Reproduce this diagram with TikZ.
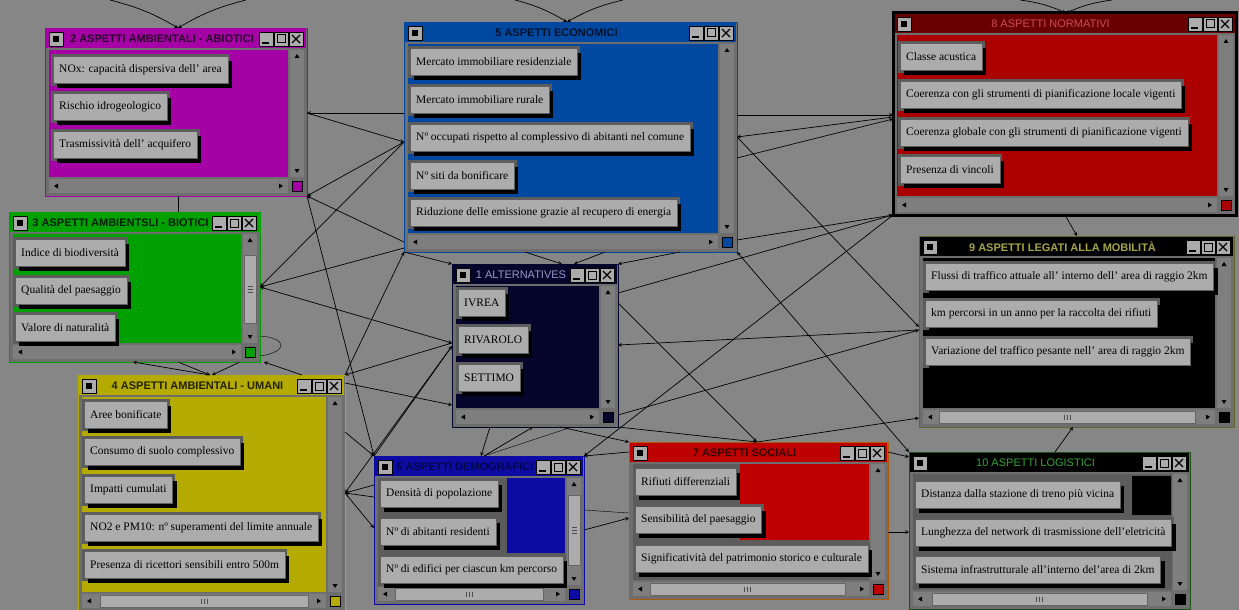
\documentclass[tikz,border=0pt]{standalone}
\usepackage{fontspec}
\setmainfont{Liberation Serif}
\newfontfamily\winfont{Liberation Sans}
\usetikzlibrary{shadows}

\definecolor{desk}{RGB}{134,134,134}
\definecolor{frame}{RGB}{110,110,110}
\definecolor{track}{RGB}{126,126,126}
\definecolor{face}{RGB}{172,172,172}
\definecolor{band}{RGB}{92,92,92}
\definecolor{magwin}{RGB}{165,0,165}
\definecolor{ecowin}{RGB}{0,72,160}
\definecolor{normbar}{RGB}{105,0,0}
\definecolor{normwin}{RGB}{170,0,0}
\definecolor{normtxt}{RGB}{205,75,95}
\definecolor{biowin}{RGB}{0,160,0}
\definecolor{umawin}{RGB}{180,170,0}
\definecolor{altwin}{RGB}{6,6,45}
\definecolor{alttxt}{RGB}{150,150,200}
\definecolor{demwin}{RGB}{12,12,165}
\definecolor{socwin}{RGB}{190,0,0}
\definecolor{socline}{RGB}{175,90,10}
\definecolor{mobtxt}{RGB}{165,165,70}
\definecolor{logtxt}{RGB}{50,165,50}

\tikzset{
  winbox/.style={inner sep=0pt, outer sep=0pt},
  wintitle/.style={font=\winfont\fontsize{11}{13}\selectfont\bfseries, inner sep=0pt},
  lighttitle/.style={font=\winfont\fontsize{11}{13}\selectfont},
  btn/.style={preaction={draw=band, line width=5pt},
    general shadow={fill=black, shadow xshift=4pt, shadow yshift=-5pt},
    fill=face, draw=face!55!black, font=\fontsize{11.5}{13}\selectfont,
    minimum height=27pt, inner xsep=6pt, inner ysep=0pt, anchor=north west},
  thumb/.style={fill=face, draw=black!60},
  link/.style={->, line width=.7pt},
}

% window: name, x, y, width, height, bar colour, title style, title, body colour
\newcommand{\appwin}[9]{%
  \filldraw[fill=frame, draw=#6, line width=.8pt] (#2,#3) rectangle ++(#4,#5);
  \fill[#6] (#2+1,#3+1) rectangle (#2+#4-1,#3+20);
  \fill[#9] (#2+4,#3+22) rectangle (#2+#4-19,#3+#5-19);
  \fill[track] (#2+#4-17,#3+22) rectangle (#2+#4-3,#3+#5-19);
  \fill[track] (#2+4,#3+#5-17) rectangle (#2+#4-19,#3+#5-3);
  \fill[black] (#2+#4-10,#3+26) -- ++(-2.5,4) -- ++(5,0) -- cycle;
  \fill[black] (#2+#4-10,#3+#5-23) -- ++(-2.5,-4) -- ++(5,0) -- cycle;
  \fill[black] (#2+9,#3+#5-10) -- ++(4,-2.5) -- ++(0,5) -- cycle;
  \fill[black] (#2+#4-24,#3+#5-10) -- ++(-4,-2.5) -- ++(0,5) -- cycle;
  \filldraw[fill=#9, draw=black] (#2+#4-15,#3+#5-15) rectangle ++(10,10);
  \filldraw[fill=face, draw=black] (#2+4,#3+4) rectangle ++(14,14);
  \fill[black] (#2+8,#3+8) rectangle ++(6,6);
  \foreach \k in {1,2,3} {\filldraw[fill=face, draw=black] (#2+#4-3-15*\k,#3+4) rectangle ++(14,14);}
  \draw[line width=2pt] (#2+#4-45,#3+15) -- ++(7,0);
  \draw[line width=1pt] (#2+#4-30,#3+7) rectangle ++(8,8);
  \draw[line width=1.2pt] (#2+#4-15,#3+7) -- ++(8,8) (#2+#4-15,#3+15) -- ++(8,-8);
  \node[winbox, minimum width=#4pt, minimum height=#5pt, anchor=north west] (#1) at (#2,#3) {};
  \node[wintitle, #7] (#1-t) at (#2+#4/2-14,#3+11) {#8};
}
\newcommand{\hgrip}[3]{%
  \filldraw[thumb] (#1,#3) rectangle (#2,#3+12);
  \foreach \d in {-3,0,3} {\draw[black!70] ({(#1+#2)/2+\d},#3+3.5) -- ++(0,5);}
}
\newcommand{\vgrip}[3]{%
  \filldraw[thumb] (#1,#2) rectangle (#1+12,#3);
  \foreach \d in {-3,0,3} {\draw[black!70] (#1+3.5,{(#2+#3)/2+\d}) -- ++(5,0);}
}

\begin{document}
\begin{tikzpicture}[x=1pt, y=-1pt, >=stealth]
  \fill[desk] (0,0) rectangle (1239,610);
  \useasboundingbox (0,0) rectangle (1239,610);

  % 2 abiotici
  \appwin{w2}{45}{28}{262}{168}{magwin}{text=magwin!25!black}{2 ASPETTI AMBIENTALI - ABIOTICI}{magwin}
  \node[btn] (b2a) at (53,56) {NOx: capacità dispersiva dell' area};
  \node[btn] (b2b) at (53,93) {Rischio idrogeologico};
  \node[btn] (b2c) at (53,131) {Trasmissività dell' acquifero};

  % 5 economici
  \appwin{w5}{404}{22}{333}{230}{ecowin}{text=ecowin!25!black}{5 ASPETTI ECONOMICI}{ecowin}
  \node[btn] (b5a) at (410,48) {Mercato immobiliare residenziale};
  \node[btn] (b5b) at (410,86) {Mercato immobiliare rurale};
  \node[btn] (b5c) at (410,124) {Nº occupati rispetto al complessivo di abitanti nel comune};
  \node[btn] (b5d) at (410,162) {Nº siti da bonificare};
  \node[btn] (b5e) at (410,199) {Riduzione delle emissione grazie al recupero di energia};

  % 8 normativi
  \appwin{w8}{893}{13}{343}{202}{normbar}{lighttitle, text=normtxt}{8 ASPETTI NORMATIVI}{normwin}
  \draw[line width=3pt] (w8.north west) rectangle (w8.south east);
  \node[btn] (b8a) at (900,43) {Classe acustica};
  \node[btn] (b8b) at (900,81) {Coerenza con gli strumenti di pianificazione locale vigenti};
  \node[btn] (b8c) at (900,119) {Coerenza globale con gli strumenti di pianificazione vigenti};
  \node[btn] (b8d) at (900,156) {Presenza di vincoli};

  % 3 biotici
  \appwin{w3}{9}{212}{251}{150}{biowin}{text=biowin!20!black}{3 ASPETTI AMBIENTSLI - BIOTICI}{biowin}
  \vgrip{244}{255}{323}
  \node[btn] (b3a) at (15,239) {Indice di biodiversità};
  \node[btn] (b3b) at (15,277) {Qualità del paesaggio};
  \node[btn] (b3c) at (15,314) {Valore di naturalità};

  % 4 umani
  \appwin{w4}{78}{375}{267}{236}{umawin}{text=umawin!20!black}{4 ASPETTI AMBIENTALI - UMANI}{umawin}
  \hgrip{100}{308}{595}
  \node[btn] (b4a) at (84,401) {Aree bonificate};
  \node[btn] (b4b) at (84,438) {Consumo di suolo complessivo};
  \node[btn] (b4c) at (84,476) {Impatti cumulati};
  \node[btn] (b4d) at (84,514) {NO2 e PM10: nº superamenti del limite annuale};
  \node[btn] (b4e) at (84,551) {Presenza di ricettori sensibili entro 500m};

  % 1 alternatives
  \appwin{w1}{452}{264}{166}{163}{altwin}{lighttitle, text=alttxt}{1 ALTERNATIVES}{altwin}
  \node[btn] (b1a) at (458,289) {IVREA};
  \node[btn] (b1b) at (458,326) {RIVAROLO};
  \node[btn] (b1c) at (458,364) {SETTIMO};

  % 6 demografici
  \appwin{w6}{374}{456}{210}{148}{demwin}{text=demwin!45!black}{6 ASPETTI DEMOGRAFICI}{demwin}
  \fill[band] (378,478) rectangle (565,585);
  \fill[demwin] (507,478) rectangle (565,553);
  \vgrip{568}{495}{565}
  \hgrip{395}{543}{588}
  \node[btn] (b6a) at (380,480) {Densità di popolazione};
  \node[btn] (b6b) at (380,518) {Nº di abitanti residenti};
  \node[btn] (b6c) at (380,556) {Nº di edifici per ciascun km percorso};

  % 7 sociali
  \appwin{w7}{629}{442}{259}{157}{socwin}{text=socwin!30!black}{7 ASPETTI SOCIALI}{socwin}
  \draw[socline, line width=.8pt] (w7.north west) rectangle (w7.south east);
  \fill[band] (633,464) rectangle (869,580);
  \fill[socwin] (740,464) rectangle (869,540);
  \hgrip{650}{845}{583}
  \node[btn] (b7a) at (635,468) {Rifiuti differenziali};
  \node[btn] (b7b) at (635,506) {Sensibilità del paesaggio};
  \node[btn] (b7c) at (635,545) {Significatività del patrimonio storico e culturale};

  % 9 mobilita
  \appwin{w9}{919}{236}{315}{191}{black}{text=mobtxt}{9 ASPETTI LEGATI ALLA MOBILITÀ}{black}
  \draw[mobtxt!60!black, line width=.8pt] (w9.north west) rectangle (w9.south east);
  \hgrip{939}{1195}{411}
  \node[btn] (b9a) at (925,263) {Flussi di traffico attuale all' interno dell' area di raggio 2km};
  \node[btn] (b9b) at (925,300) {km percorsi in un anno per la raccolta dei rifiuti};
  \node[btn] (b9c) at (925,338) {Variazione del traffico pesante nell' area di raggio 2km};

  % 10 logistici
  \appwin{w10}{909}{452}{281}{157}{black}{lighttitle, text=logtxt}{10 ASPETTI LOGISTICI}{black}
  \draw[logtxt!50!black, line width=.8pt] (w10.north west) rectangle (w10.south east);
  \fill[band] (913,474) rectangle (1172,590);
  \fill[black] (1132,476) rectangle (1171,515);
  \hgrip{932}{1147}{593}
  \node[btn] (b10a) at (915,481) {Distanza dalla stazione di treno più vicina};
  \node[btn] (b10b) at (915,519) {Lunghezza del network di trasmissione dell'eletricità};
  \node[btn] (b10c) at (915,556) {Sistema infrastrutturale all'interno del'area di 2km};

  % links coming from above
  \coordinate (in2a) at (110,0);
  \coordinate (in2b) at (246,0);
  \coordinate (in5a) at (515,0);
  \coordinate (in5b) at (623,0);
  \coordinate (in8a) at (1020,0);
  \coordinate (in8b) at (1112,0);
  \draw[link] (in2a) to[bend left=8] (w2.north -| 178,0);
  \draw[link] (in2b) to[bend right=8] (w2.north -| 178,0);
  \draw[link] (in5a) to[bend left=8] (w5.north -| 567,0);
  \draw[link] (in5b) to[bend right=8] (w5.north -| 567,0);
  \draw[link] (in8a) to[bend left=8] (w8.north -| 1066,0);
  \draw[link] (in8b) to[bend right=8] (w8.north -| 1066,0);

  % links between windows
  \draw (w2.south -| 178,0) -- (w3.north -| 178,0);
  \draw[link] (w5.west |- 0,113) -- (w2.east |- 0,113);
  \draw[link] (w2.east |- 0,113) -- (w5.west |- 0,142);
  \draw[link] (w5.west |- 0,142) -- (w2.south east);
  \draw[link] (w5.west |- 0,242) -- (w2.south east);
  \draw[link] (w5.west |- 0,142) -- (w3.east |- 0,287);
  \draw[link] (w5.west |- 0,248) -- (w3.east |- 0,287);
  \draw[link, <->] (w3.east |- 0,287) -- (w1.west |- 0,343);
  \draw[link] (w2.south east) -- (w6.north west);
  \draw[link] (w4.north east) -- (w5.south west);
  \draw[link] (w1.west |- 0,343) -- (w4.north east);
  \draw[link] (w4.east |- 0,383) -- (w1.west |- 0,405);
  \draw[link] (w6.north west) -- (w1.west |- 0,346);
  \draw[link] (w1.west |- 0,346) -- (w4.east |- 0,493);
  \draw[link] (w4.east |- 0,432) -- (w6.north west);
  \draw[link] (w6.west |- 0,485) -- (w4.east |- 0,493);
  \draw[link] (w6.west |- 0,497) -- (w4.east |- 0,493);
  \draw[link] (w4.east |- 0,493) -- (w6.west |- 0,528);
  \draw (w3.east |- 0,336) .. controls (288,338) and (288,352) .. (w3.east |- 0,356);
  \draw[link] (w4.north -| 210,0) -- (w3.south -| 133,0);
  \draw[link] (w3.south -| 178,0) -- (w4.north -| 210,0);
  \draw[link] (w3.south -| 240,0) -- (w4.north -| 212,0);
  \draw[link] (w4.north -| 302,0) -- (w3.south -| 264,0);
  \draw[link] (w5.south west) -- (w1.north west);
  \draw[link] (w5.south -| 525,0) -- (w1.north -| 562,0);
  \draw[link] (w5.south -| 605,0) -- (w1.north -| 574,0);
  \draw[link] (w5.south -| 680,0) -- (w1.north east);
  \draw[link] (w5.east |- 0,115) -- (w8.west |- 0,115);
  \draw[link] (w8.west |- 0,117) -- (w5.east |- 0,137);
  \draw[link] (w5.east |- 0,158) -- (w8.west |- 0,119);
  \draw[link] (w5.east |- 0,240) -- (w8.south west);
  \draw[link] (w1.east |- 0,293) -- (w8.south west);
  \draw[link] (w1.east |- 0,303) -- (w7.north -| 757,0);
  \draw[link] (w8.south west) -- (w6.north east);
  \draw[link] (w5.east |- 0,137) -- (w9.west |- 0,327);
  \draw[link, <->] (w5.south east) -- (w10.north west);
  \draw[link] (w1.east |- 0,415) -- (w9.west |- 0,330);
  \draw[link] (w9.west |- 0,330) -- (w1.east |- 0,345);
  \draw[link] (w7.east |- 0,452) -- (w10.west |- 0,457);
  \draw[link] (w7.east |- 0,532) -- (w10.west |- 0,532);
  \draw[link] (w10.north -| 1055,0) -- (w9.south -| 1073,0);
  \draw[link] (w8.south -| 1065,0) -- (w9.north -| 1077,0);
  \draw[link] (w7.north -| 757,0) -- (w9.west |- 0,418);
  \draw[link] (w1.south east) -- (w7.north -| 757,0);
  \draw[link] (w1.south -| 560,0) -- (w7.north west);
  \draw[link] (w7.west |- 0,452) -- (w6.north east);
  \draw[link] (w1.south -| 490,0) -- (w6.north -| 481,0);
  \draw[link] (w6.north -| 484,0) -- (w1.south -| 533,0);
  \draw (w6.north -| 484,0) -- (w1.south -| 572,0);
  \draw (w6.east |- 0,510) -- (w7.west |- 0,513);
  \draw[link] (w6.east |- 0,530) -- (w7.west |- 0,518);
\end{tikzpicture}
\end{document}
